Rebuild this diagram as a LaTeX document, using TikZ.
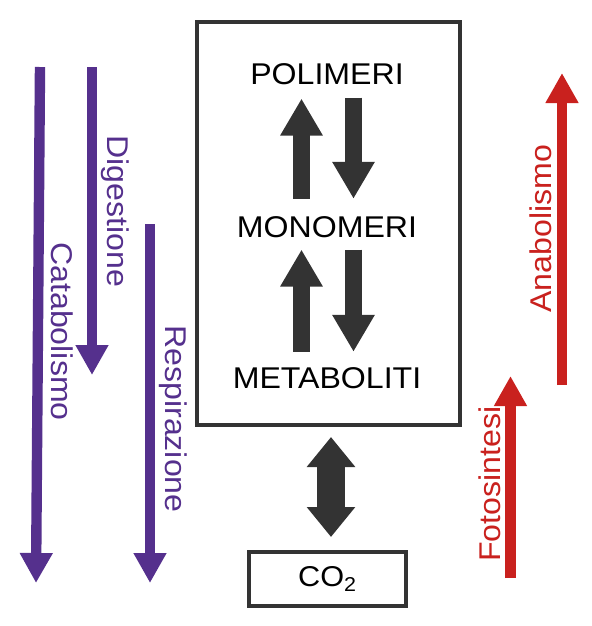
\documentclass[tikz,border=0pt]{standalone}
\usepackage{fontspec}
\setmainfont{Liberation Sans}[FakeStretch=1.07]
\usetikzlibrary{arrows.meta}
\definecolor{cataviolet}{HTML}{55308D}
\definecolor{anared}{HTML}{C9211E}
\definecolor{blockgrey}{HTML}{333333}

\begin{document}
\begin{tikzpicture}[x=0.75pt,y=-0.75pt,font=\fontsize{22.5pt}{27pt}\selectfont,
  every node/.style={inner sep=0pt},
  frame/.style={draw=blockgrey,line width=3pt},
  blk/.style={blockgrey,line width=12.75pt,-{Triangle[length=27.75pt,width=30pt]}},
  dbl/.style={blockgrey,line width=21pt,{Triangle[length=22.5pt,width=35pt]}-{Triangle[length=22.5pt,width=35pt]}},
  thin/.style={line width=7.8pt,-{Triangle[length=22.5pt,width=23.25pt]}}]
  \useasboundingbox (0,0) rectangle (592,626);
  % cell
  \node[frame,minimum width=197.25pt,minimum height=302.25pt] (cell) at (328.5,223.5) {};
  \node[anchor=base] (poli) at (327,84) {POLIMERI};
  \node[anchor=base] (mono) at (327,237) {MONOMERI};
  \node[anchor=base] (meta) at (327,388) {METABOLITI};
  \draw[blk] ([shift={(-25.5,-17)}]mono.north) -- ([shift={(-25.5,14)}]poli.south);
  \draw[blk] ([shift={(26.5,13)}]poli.south) -- ([shift={(26.5,-17)}]mono.north);
  \draw[blk] ([shift={(-25.5,-15)}]meta.north) -- ([shift={(-25.5,12)}]mono.south);
  \draw[blk] ([shift={(26.5,12)}]mono.south) -- ([shift={(26.5,-15)}]meta.north);
  % co2
  \node[frame,minimum width=117.75pt,minimum height=40.5pt,font=\fontsize{21.5pt}{25pt}\selectfont] (co2) at (327.5,579) {CO\textsubscript{2}};
  \draw[dbl] ([shift={(2.5,10)}]cell.south) -- ([shift={(3.5,-13)}]co2.north);
  % catabolism
  \coordinate (cattop) at (40,67);
  \coordinate (cattip) at (36,583);
  \coordinate (digtop) at (92,67);
  \coordinate (digtip) at (92,375);
  \coordinate (resptop) at (150,224);
  \coordinate (resptip) at (150,583);
  \draw[thin,cataviolet] (cattop) -- (cattip);
  \draw[thin,cataviolet] (digtop) -- (digtip);
  \draw[thin,cataviolet] (resptop) -- (resptip);
  \node[rotate=-90,anchor=base west,text=cataviolet] (catlabel) at (51,242) {Catabolismo};
  \node[rotate=-90,anchor=base west,text=cataviolet] (diglabel) at (108,135) {Digestione};
  \node[rotate=-90,anchor=base west,text=cataviolet] (resplabel) at (165,325) {Respirazione};
  % anabolism
  \coordinate (anafoot) at (562,385);
  \coordinate (anatip) at (562,73);
  \coordinate (fotofoot) at (510.5,578);
  \coordinate (fototip) at (510.5,376);
  \draw[thin,anared] (anafoot) -- (anatip);
  \draw[thin,anared] (fotofoot) -- (fototip);
  \node[rotate=90,anchor=base west,text=anared] (analabel) at (551,313) {Anabolismo};
  \node[rotate=90,anchor=base west,text=anared] (fotolabel) at (500,562) {Fotosintesi};
\end{tikzpicture}
\end{document}
